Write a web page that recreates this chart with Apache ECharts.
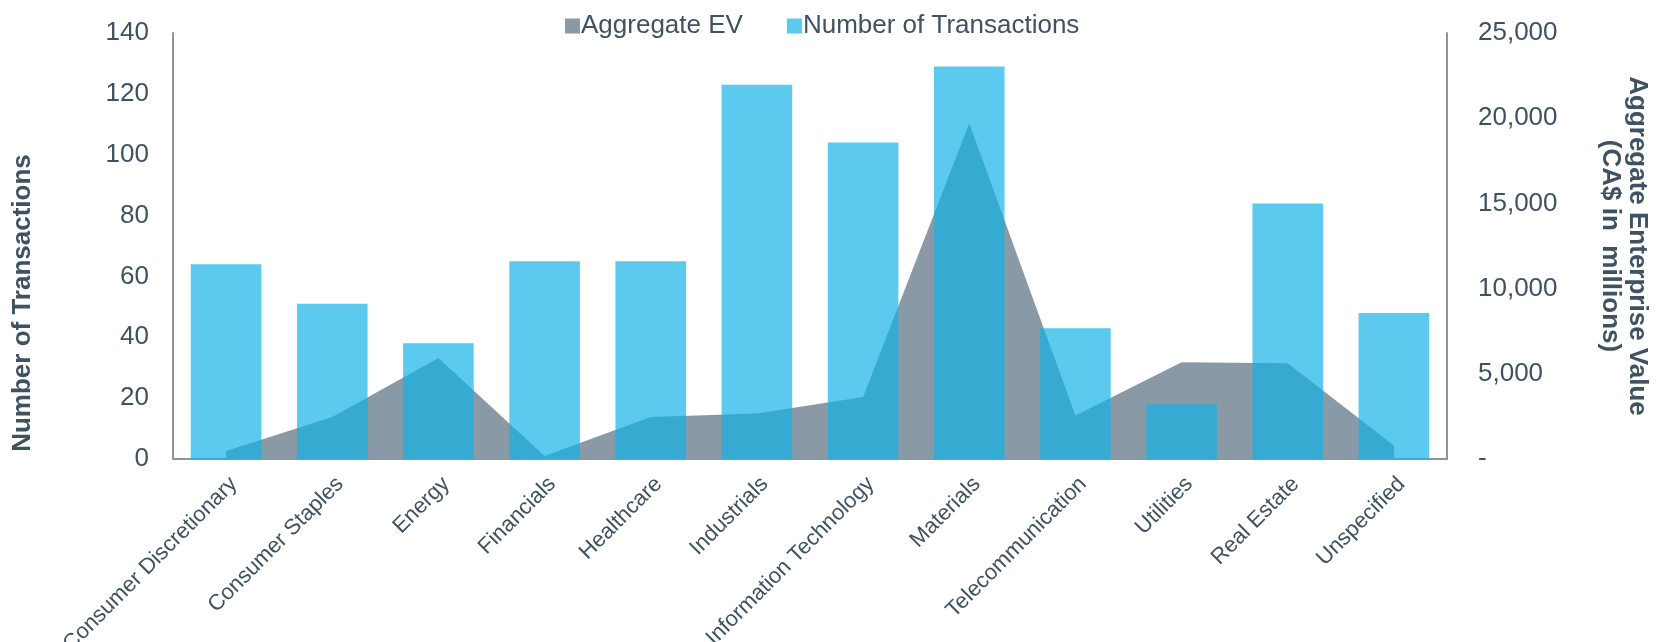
<!DOCTYPE html>
<html>

<head>
    <meta charset="utf-8" />
    <title>ECharts</title>
    <style>
        html, body {
            margin: 0;
            padding: 0;
            background: #fff;
        }

        .main {
            width: 1660px;
            height: 642px;
        }
    </style>
    <script src="https://cdn.jsdelivr.net/npm/echarts@6/dist/echarts.min.js"></script>
</head>

<body>
    <div class="main"></div>

    <script type="text/javascript">
        // 数据
        const categories = ['Consumer Discretionary', 'Consumer Staples', 'Energy', 'Financials', 'Healthcare',
            'Industrials', 'Information Technology', 'Materials', 'Telecommunication', 'Utilities',
            'Real Estate', 'Unspecified'];
        const transactions = [64, 51, 38, 65, 65, 123, 104, 129, 43, 18, 84, 48];
        const aggregateEV = [470, 2470, 5920, 170, 2470, 2670, 3640, 19710, 2550, 5680, 5620, 790];
        const leftTicks = [0, 140, 20];      // min, max, interval
        const rightTicks = [0, 25000, 5000];

        const font = "'Liberation Sans', Arial, sans-serif";
        const textColor = '#3e5261';
        const axisColor = '#8c949c';

        var myChart = echarts.init(document.querySelector('.main'));
        var option = {
            animation: false,
            textStyle: { fontFamily: font },
            legend: {
                left: 560,
                top: 8,
                icon: 'rect',
                itemWidth: 15,
                itemHeight: 15,
                itemGap: 44,
                textStyle: { fontSize: 26, color: textColor, fontFamily: font, padding: [0, 0, 0, -4] },
                data: ['Aggregate EV', 'Number of Transactions']
            },
            grid: { left: 173, right: 213, top: 33, bottom: 183, outerBoundsMode: 'none', containLabel: false },
            xAxis: {
                type: 'category',
                data: categories,
                axisLine: { lineStyle: { color: axisColor, width: 2 } },
                axisTick: { show: false },
                axisLabel: {
                    interval: 0,
                    rotate: 45,
                    margin: 14,
                    align: 'right',
                    verticalAlign: 'top',
                    fontSize: 22,
                    color: textColor,
                    fontFamily: font
                }
            },
            yAxis: [
                {
                    type: 'value',
                    min: leftTicks[0],
                    max: leftTicks[1],
                    interval: leftTicks[2],
                    name: 'Number of Transactions',
                    nameLocation: 'middle',
                    nameRotate: 90,
                    nameGap: 137,
                    // 标题在原图中偏下
                    nameTextStyle: {
                        fontSize: 26, fontWeight: 'bold', color: textColor, fontFamily: font,
                        padding: [0, 114, 0, 0]
                    },
                    axisLine: { show: true, lineStyle: { color: axisColor, width: 2 } },
                    axisTick: { show: false },
                    splitLine: { show: false },
                    axisLabel: { fontSize: 26, color: textColor, margin: 24, fontFamily: font }
                },
                {
                    type: 'value',
                    position: 'right',
                    min: rightTicks[0],
                    max: rightTicks[1],
                    interval: rightTicks[2],
                    name: 'Aggregate Enterprise Value\n(CA$ in  millions)',
                    nameLocation: 'middle',
                    nameRotate: -90,
                    nameGap: 150,
                    nameTextStyle: {
                        fontSize: 26, fontWeight: 'bold', color: textColor, fontFamily: font,
                        lineHeight: 27, align: 'center'
                    },
                    axisLine: { show: true, lineStyle: { color: axisColor, width: 2 } },
                    axisTick: { show: false },
                    splitLine: { show: false },
                    axisLabel: {
                        fontSize: 26,
                        color: textColor,
                        margin: 31,
                        fontFamily: font,
                        formatter: function (v) {
                            return v === 0 ? '-' : v.toLocaleString('en-US');
                        }
                    }
                }
            ],
            series: [
                {
                    name: 'Aggregate EV',
                    type: 'line',
                    yAxisIndex: 1,
                    z: 1,
                    data: aggregateEV,
                    color: '#8a99a6',
                    symbol: 'none',
                    lineStyle: { width: 0 },
                    areaStyle: { color: '#8a99a6', opacity: 1 }
                },
                {
                    name: 'Number of Transactions',
                    type: 'bar',
                    z: 3,
                    data: transactions,
                    barCategoryGap: '33.5%',
                    itemStyle: { color: 'rgba(17,178,230,0.69)' }
                }
            ]
        };
        myChart.setOption(option);
    </script>
</body>

</html>
